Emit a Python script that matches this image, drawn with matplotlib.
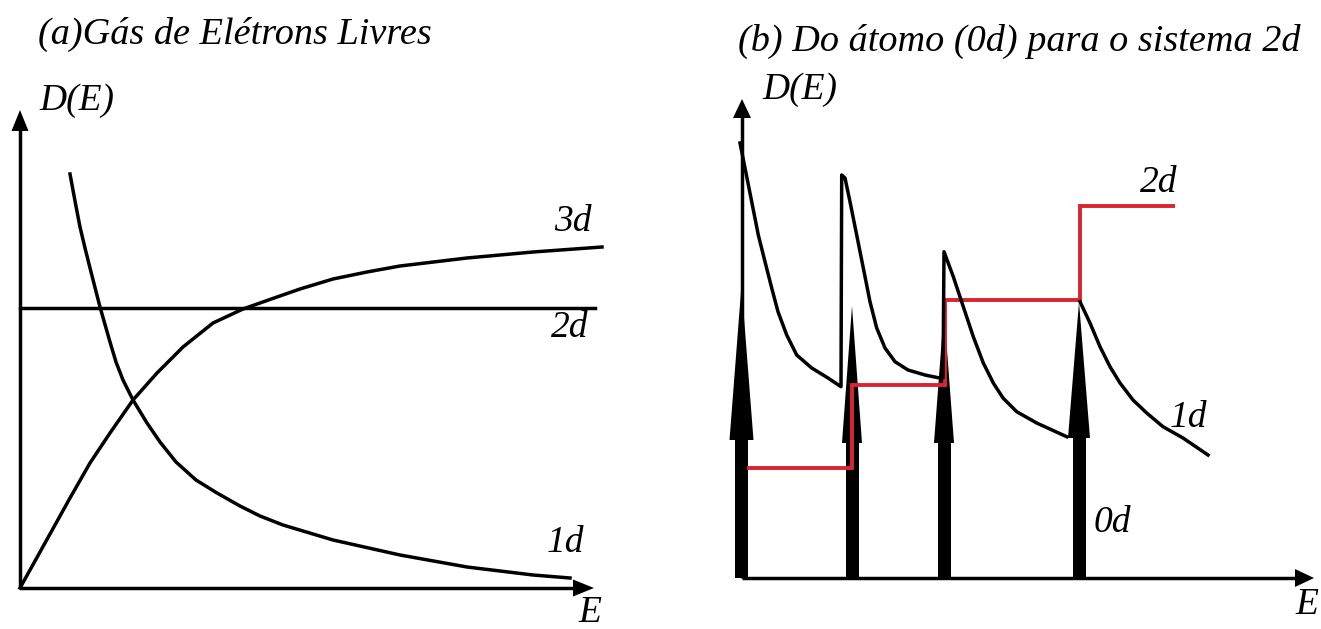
import matplotlib
matplotlib.use("Agg")
import matplotlib.pyplot as plt
import numpy as np

# --- panel (a): free electron gas, coordinates (pixels, y down)
a_origin = (20, 588)
a_xtip, a_ytip = 594, 110
a_2d_level, a_2d_end = 308, 595
a_1d_x = [70, 75, 80, 85, 90, 100, 110, 116, 123, 133, 147, 160, 176, 196,
          217, 240, 260, 283, 333, 400, 467, 533, 570]
a_1d_y = [174, 201, 227, 248, 268, 307, 342, 362, 380, 400, 423, 442, 462, 480,
          493, 506, 516, 525, 540, 555, 567, 575, 578]
a_3d_x = [20, 70, 90, 110, 133, 157, 183, 213, 243, 277, 300, 333, 367, 400, 467, 533, 602]
a_3d_y = [588, 498, 463, 433, 400, 373, 347, 323, 309, 297, 289, 279, 272, 266, 258, 252, 247]

# --- panel (b): from the atom (0d) to the 2d system
b_origin = (742, 578)
b_xtip, b_ytip = 1314, 99
spike_x = [741.5, 852, 944, 1079]
spike_tip = [285, 306, 310, 302]
spike_base = [440, 443, 443, 438]
spike_headw = [24, 20, 20, 22]
b_1d_x = [740, 745, 751.7, 758.3, 765, 771.7, 778, 786.7, 796.7, 811.7, 828, 841,
          841.7, 845, 850, 856.7, 863.3, 870, 876.7, 885, 895, 908, 925, 938, 943,
          944, 953.3, 963.3, 973.3, 983.3, 993.3, 1003, 1016.7, 1036.7, 1066.7,
          np.nan, 1080, 1090, 1100, 1110, 1120, 1133, 1146.7, 1163, 1183, 1208]
b_1d_y = [143, 168, 201.7, 235, 261.7, 288, 311.7, 335, 355, 368, 378, 386.7,
          175, 178, 201.7, 235, 268, 301.7, 328, 348, 361.7, 370, 375, 377.7, 378,
          251.7, 276.7, 306.7, 336.7, 363, 383, 398, 411.7, 423, 436.7,
          np.nan, 301.7, 323, 346.7, 366.7, 383, 400, 413, 426.7, 438, 455]
b_2d_edges = [747, 852, 945, 1080, 1175]
b_2d_levels = [468, 385, 300, 206]

W, H = 1321, 629
fig = plt.figure(figsize=(W / 100, H / 100), dpi=100)
ax = fig.add_axes([0, 0, 1, 1])
ax.set_xlim(0, W)
ax.set_ylim(H, 0)
ax.axis("off")

lw = 2.5
red = "#d9252f"
font = dict(family="Liberation Serif", style="italic", color="black", fontsize=27)
title_font = dict(font, fontsize=27.5)


def axis_arrows(origin, xtip, ytip, hl=20, hw=18):
    x0, y0 = origin
    ax.plot([x0, xtip - hl + 2], [y0, y0], color="k", lw=lw, solid_capstyle="butt")
    ax.plot([x0, x0], [y0, ytip + hl - 2], color="k", lw=lw, solid_capstyle="butt")
    ax.fill([xtip - hl, xtip, xtip - hl], [y0 - hw / 2, y0, y0 + hw / 2], color="k", lw=0)
    ax.fill([x0 - hw / 2, x0, x0 + hw / 2], [ytip + hl, ytip, ytip + hl], color="k", lw=0)


# panel (a)
axis_arrows(a_origin, a_xtip, a_ytip, hl=21, hw=17)
ax.plot([a_origin[0], a_2d_end], [a_2d_level, a_2d_level], color="k", lw=lw)
ax.plot(a_1d_x, a_1d_y, color="k", lw=lw)
ax.plot(a_3d_x, a_3d_y, color="k", lw=lw)

ax.text(38, 34, "(a)Gás de Elétrons Livres", ha="left", va="center", **title_font)
ax.text(77, 101, "D(E)", ha="center", va="center", **font)
ax.text(573, 222, "3d", ha="center", va="center", **font)
ax.text(570, 328, "2d", ha="center", va="center", **font)
ax.text(565, 543, "1d", ha="center", va="center", **font)
ax.text(590, 613, "E", ha="center", va="center", **font)

# panel (b)
axis_arrows(b_origin, b_xtip, b_ytip, hl=19, hw=18)
ax.bar(spike_x, [b - b_origin[1] for b in spike_base], width=13, bottom=b_origin[1], color="k", lw=0)
for x, t, b, w in zip(spike_x, spike_tip, spike_base, spike_headw):
    ax.fill([x - w / 2, x, x + w / 2], [b, t, b], color="k", lw=0)
ax.plot(b_1d_x, b_1d_y, color="k", lw=lw)
ax.stairs(b_2d_levels, b_2d_edges, baseline=None, color=red, lw=lw + 0.3)

ax.text(738, 41, "(b) Do átomo (0d) para o sistema 2d", ha="left", va="center", **title_font)
ax.text(800, 90, "D(E)", ha="center", va="center", **font)
ax.text(1159, 183, "2d", ha="center", va="center", **font)
ax.text(1188, 418, "1d", ha="center", va="center", **font)
ax.text(1112, 523, "0d", ha="center", va="center", **font)
ax.text(1307, 605, "E", ha="center", va="center", **font)

fig.savefig("out.png", dpi=100, facecolor="white")
